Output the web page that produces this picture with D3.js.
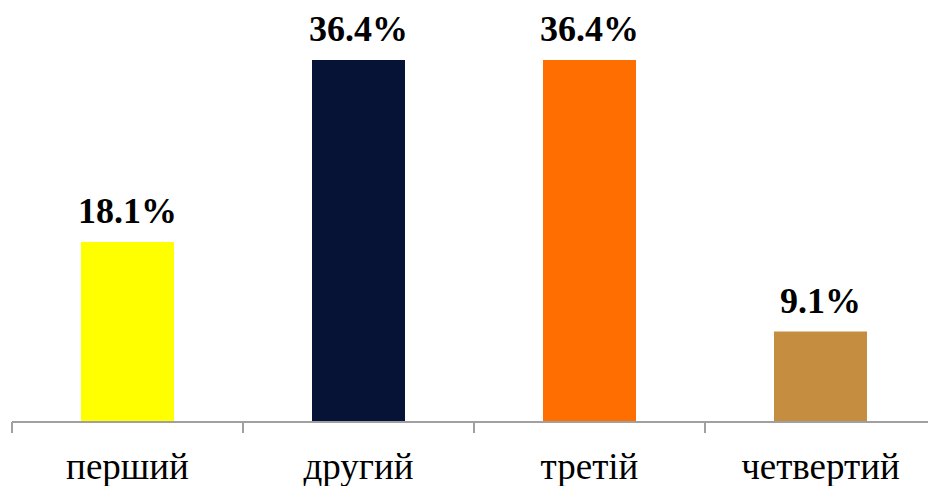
<!DOCTYPE html>
<html>
<head>
<meta charset="utf-8">
<script src="https://cdn.jsdelivr.net/npm/d3@7"></script>
<style>
	body { margin: 0; background: #fff; }
</style>
</head>
<body>
<svg width="928" height="486"></svg>
<script>
var categories = ["перший", "другий", "третій", "четвертий"];
var values = [18.1, 36.4, 36.4, 9.1];
var colors = ["#ffff00", "#061337", "#ff6e00", "#c58d3f"];

var svg = d3.select("svg"), width = +svg.attr("width"), height = +svg.attr("height");
var left = 12, right = 936, base = 422;
var font = "'Liberation Serif', 'DejaVu Serif', serif";

// scales
var x = d3.scaleBand().domain(categories).range([left, right]).paddingInner(0).paddingOuter(0);
var y = d3.scaleLinear().domain([0, 36.4]).range([base, 60]);
var barW = 93;

// bars
svg.append("g").selectAll("rect").data(values).enter().append("rect")
	.attr("x", function(d, i) { return x(categories[i]) + (x.bandwidth() - barW) / 2; })
	.attr("y", function(d) { return y(d); })
	.attr("width", barW)
	.attr("height", function(d) { return base - y(d); })
	.attr("fill", function(d, i) { return colors[i]; });

// value labels
svg.append("g").selectAll("text").data(values).enter().append("text")
	.attr("x", function(d, i) { return x(categories[i]) + x.bandwidth() / 2; })
	.attr("y", function(d) { return y(d) - 19; })
	.attr("text-anchor", "middle")
	.style("font-family", font)
	.style("font-weight", "bold")
	.style("font-size", "36px")
	.text(function(d) { return d.toFixed(1) + "%"; });

// axis
var axis = svg.append("g").attr("transform", "translate(0," + base + ")")
	.call(d3.axisBottom(x).tickSize(0).tickFormat(""));
axis.select(".domain").remove();
axis.append("line").attr("x1", left).attr("x2", width).attr("stroke", "#a0a0a0").attr("stroke-width", 2);
var edges = categories.map(function(c) { return x(c); }).concat([right]);
axis.selectAll(".edge").data(edges).enter().append("line")
	.attr("x1", function(d) { return d; }).attr("x2", function(d) { return d; })
	.attr("y1", 0).attr("y2", 11)
	.attr("stroke", "#a0a0a0").attr("stroke-width", 2);

// category labels
svg.append("g").selectAll("text").data(categories).enter().append("text")
	.attr("x", function(d) { return x(d) + x.bandwidth() / 2; })
	.attr("y", 479)
	.attr("text-anchor", "middle")
	.style("font-family", font)
	.style("font-size", "37px")
	.text(function(d) { return d; });
</script>
</body>
</html>
